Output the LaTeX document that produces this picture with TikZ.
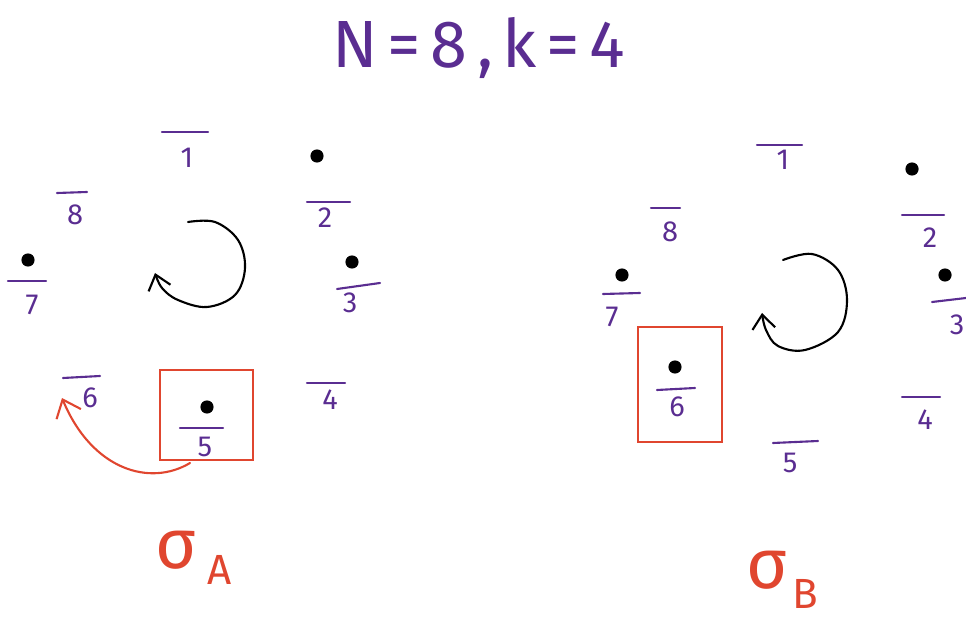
\documentclass[tikz,border=0pt]{standalone}
\usepackage{fontspec}
\setmainfont{Fira Sans}
\usetikzlibrary{arrows.meta}
\definecolor{purp}{HTML}{5A2D91}
\definecolor{redd}{HTML}{E0462F}
\tikzset{
  digit/.style={text=purp, inner sep=0pt, font=\fontsize{16.5}{16.5}\selectfont},
  barline/.style={draw=purp, line width=1.2pt, line cap=round},
  blob/.style={circle, fill=black, inner sep=0pt, minimum size=7.5pt},
  selbox/.style={draw=redd, line width=1.2pt},
  rot/.style={draw=black, line width=1.2pt, line cap=round, -{Straight Barb[length=8pt,width=13pt,line width=1.2pt]}},
  move/.style={draw=redd, line width=1.2pt, line cap=round, -{Straight Barb[length=9pt,width=15pt,line width=1.2pt]}},
  siglab/.style={text=redd, inner sep=0pt}
}
\newcommand{\tsp}{\hspace{5.5pt}}
\begin{document}
\begin{tikzpicture}[x=0.02cm, y=-0.02cm]
\useasboundingbox (0,0) rectangle (966,621);
% title
\node[text=purp, font=\fontsize{38}{38}\selectfont] (title) at (479,48) {N\tsp=\tsp8\tsp,\tsp k\tsp=\tsp4};

% ---------- left configuration ----------
\node[digit] (a1) at (187,158) {1};
\draw[barline] (162,132) -- (208,132);
\node[blob] (ad2) at (317,156) {};
\draw[barline] (307,202) -- (350,202);
\node[digit] (a2) at (325,218) {2};
\node[blob] (ad3) at (352,262) {};
\draw[barline] (337,289) -- (380,283);
\node[digit] (a3) at (350,303) {3};
\draw[barline] (307,383) -- (345,383);
\node[digit] (a4) at (330,400) {4};
\node[selbox, minimum width=93*0.02cm, minimum height=90*0.02cm] (abox) at (206.5,415) {};
\node[blob] (ad5) at (207,407) {};
\draw[barline] (180,428) -- (223,428);
\node[digit] (a5) at (205,447) {5};
\draw[barline] (63,378) -- (100,376);
\node[digit] (a6) at (90,398) {6};
\node[blob] (ad7) at (28,260) {};
\draw[barline] (8,281) -- (46,281);
\node[digit] (a7) at (32,305) {7};
\draw[barline] (57,193) -- (87,192);
\node[digit] (a8) at (75,215) {8};

\draw[rot] plot[smooth, tension=0.6] coordinates {(188,222) (215,222) (238,240) (245,268) (235,295) (207,307) (178,300) (162,288) (155,273)};

\coordinate (amvs) at (190,463);
\coordinate (amve) at (62,398);
\draw[move] (amvs) .. controls (150,487) and (92,470) .. (amve);

\node[siglab, font=\fontsize{40}{40}\selectfont] (sa) at (176,550) {σ};
\node[siglab, font=\fontsize{24}{24}\selectfont] (sA) at (220,570) {A};

% ---------- right configuration ----------
\draw[barline] (757,145) -- (802,145);
\node[digit] (b1) at (783,160) {1};
\node[blob] (bd2) at (912,169) {};
\draw[barline] (902,215) -- (944,215);
\node[digit] (b2) at (930,238) {2};
\node[blob] (bd3) at (945,275) {};
\draw[barline] (932,302) -- (966,298);
\node[digit] (b3) at (957,325) {3};
\draw[barline] (902,397) -- (940,397);
\node[digit] (b4) at (925,420) {4};
\draw[barline] (773,443) -- (818,441);
\node[digit] (b5) at (790,463) {5};
\node[selbox, minimum width=84*0.02cm, minimum height=115*0.02cm] (bbox) at (680,384.5) {};
\node[blob] (bd6) at (675,367) {};
\draw[barline] (657,390) -- (695,388);
\node[digit] (b6) at (677,407) {6};
\node[blob] (bd7) at (622,275) {};
\draw[barline] (603,294) -- (640,293);
\node[digit] (b7) at (612,317) {7};
\draw[barline] (651,208) -- (680,208);
\node[digit] (b8) at (670,232) {8};

\draw[rot] plot[smooth, tension=0.6] coordinates {(783,260) (812,254) (838,270) (847,300) (838,332) (805,350) (778,346) (766,330) (762,313)};

\node[siglab, font=\fontsize{40}{40}\selectfont] (sb) at (767,570) {σ};
\node[siglab, font=\fontsize{24}{24}\selectfont] (sB) at (805,594) {B};
\end{tikzpicture}
\end{document}
